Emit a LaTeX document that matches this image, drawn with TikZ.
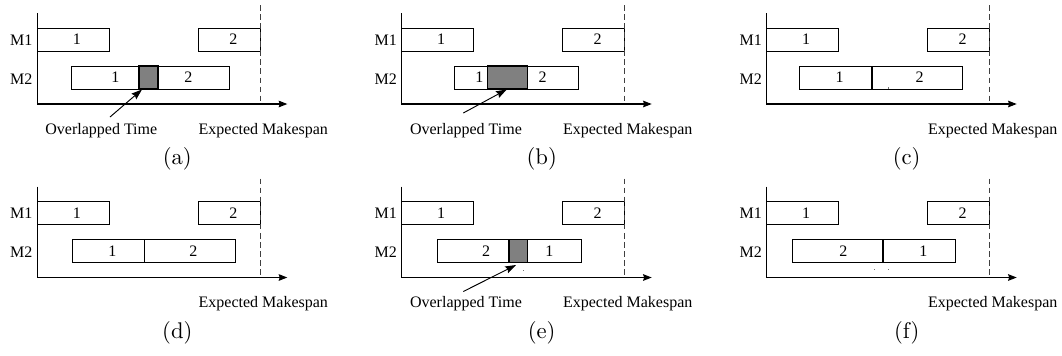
\documentclass[tikz,border=0pt]{standalone}
\usepackage{fontspec}
\newfontfamily\tms{Liberation Serif}
\newfontfamily\capfont{lmroman10-regular}[Extension=.otf]
\usetikzlibrary{arrows.meta,calc}

\tikzset{
  job/.style={draw=black, line width=0.6pt},
  overlap/.style={draw=black, fill=gray, line width=1.1pt},
  split/.style={draw=black, line width=1.2pt},
  axes/.style={line width=0.8pt, -{Stealth[length=6.5pt,width=5pt,inset=0.8pt]}},
  deadline/.style={draw=black!75, line width=0.7pt, dash pattern=on 4.2pt off 2.6pt},
  pointer/.style={line width=0.7pt, -{Stealth[length=8pt,width=5.5pt,inset=1pt]}},
  lbl/.style={font=\tms\fontsize{12}{14}\selectfont, inner sep=0pt},
  figcap/.style={font=\capfont\fontsize{17}{20}\selectfont, inner sep=0pt},
  speck/.style={fill=black!55},
}

% Common frame of one schedule: axes, machine labels, M1 jobs, deadline.
% #1 = name prefix, #2 = caption letter
\newcommand\ganttframe[2]{%
  \coordinate (#1o) at (0,0);
  \draw[axes] (0,-91) -- (#1o) -- (250,0);
  \node[lbl] (#1m1) at (-16,-64) {M1};
  \node[lbl] (#1m2) at (-16,-25) {M2};
  \draw[job] (0,-76) rectangle (72,-53);
  \node[lbl] (#1a1) at (39.5,-64.5) {1};
  \draw[job] (161,-76) rectangle (223,-53);
  \node[lbl] (#1a2) at (196,-64.5) {2};
  \draw[deadline] (223,-99) -- (223,0);
  \node[lbl, anchor=base] (#1em) at (226,30) {Expected Makespan};
  \node[figcap] (#1cap) at (140,55) {(#2)};
}

\begin{document}
\begin{tikzpicture}[x=0.75pt, y=-0.75pt]
\useasboundingbox (0,0) rectangle (1062,355);

% (a) jobs overlap a little on M2
\begin{scope}[shift={(37.3,104)}]
  \ganttframe{a}{a}
  \draw[job] (33.7,-38) rectangle (191.7,-15);
  \node[overlap, minimum width=14.3pt, minimum height=17.25pt, inner sep=0pt] (ag) at (111.2,-26.5) {};
  \node[lbl] (ab1) at (78,-26.5) {1};
  \node[lbl] (ab2) at (151,-26.5) {2};
  \node[lbl, anchor=base] (aot) at (64,30) {Overlapped Time};
  \coordinate (at) at (72.7,13);
  \coordinate (ah) at (104.7,-14.5);
  \draw[pointer] (at) -- (ah);
\end{scope}

% (b) jobs overlap more on M2
\begin{scope}[shift={(401.7,104)}]
  \ganttframe{b}{b}
  \draw[job] (52.6,-38) rectangle (176.6,-15);
  \node[overlap, minimum width=29.7pt, minimum height=17.25pt, inner sep=0pt] (bg) at (105.8,-26.5) {};
  \node[lbl] (bb1) at (77.6,-26.5) {1};
  \node[lbl] (bb2) at (141,-26.5) {2};
  \node[lbl, anchor=base] (bot) at (64.3,30) {Overlapped Time};
  \coordinate (bt) at (61.6,9);
  \coordinate (bh) at (105,-14.5);
  \draw[pointer] (bt) -- (bh);
\end{scope}

% (c) jobs back to back on M2
\begin{scope}[shift={(766.7,104)}]
  \ganttframe{c}{c}
  \draw[job] (32.6,-38) rectangle (195.6,-15);
  \draw[split] (105,-38) -- (105,-15);
  \node[lbl] (cb1) at (73,-26.5) {1};
  \node[lbl] (cb2) at (153,-26.5) {2};
  \fill[speck] (121,-17.5) rectangle (122,-15.5);
\end{scope}

% (d) jobs back to back on M2
\begin{scope}[shift={(37.3,277.5)}]
  \ganttframe{d}{d}
  \draw[job] (35,-38) rectangle (198,-15);
  \draw[split] (107,-38) -- (107,-15);
  \node[lbl] (db1) at (75,-26.5) {1};
  \node[lbl] (db2) at (156,-26.5) {2};
\end{scope}

% (e) swapped order, overlap on M2
\begin{scope}[shift={(401.7,277.5)}]
  \ganttframe{e}{e}
  \draw[job] (35.6,-38) rectangle (180,-15);
  \node[overlap, minimum width=13.7pt, minimum height=17.25pt, inner sep=0pt] (eg) at (116.5,-26.5) {};
  \node[lbl] (eb2) at (84.3,-26.5) {2};
  \node[lbl] (eb1) at (147.6,-26.5) {1};
  \node[lbl, anchor=base] (eot) at (64.3,30) {Overlapped Time};
  \coordinate (et) at (61.6,14);
  \coordinate (eh) at (114.3,-12.5);
  \draw[pointer] (et) -- (eh);
  \fill[speck] (121,-8) rectangle (122.2,-6.8);
\end{scope}

% (f) swapped order, back to back on M2
\begin{scope}[shift={(766.7,277.5)}]
  \ganttframe{f}{f}
  \draw[job] (26,-38) rectangle (189,-15);
  \draw[split] (116,-38) -- (116,-15);
  \node[lbl] (fb2) at (76.6,-26.5) {2};
  \node[lbl] (fb1) at (156.6,-26.5) {1};
  \fill[speck] (107,-8.3) rectangle (108.2,-7.1);
  \fill[speck] (121,-8.3) rectangle (122.2,-7.1);
\end{scope}
\end{tikzpicture}
\end{document}
